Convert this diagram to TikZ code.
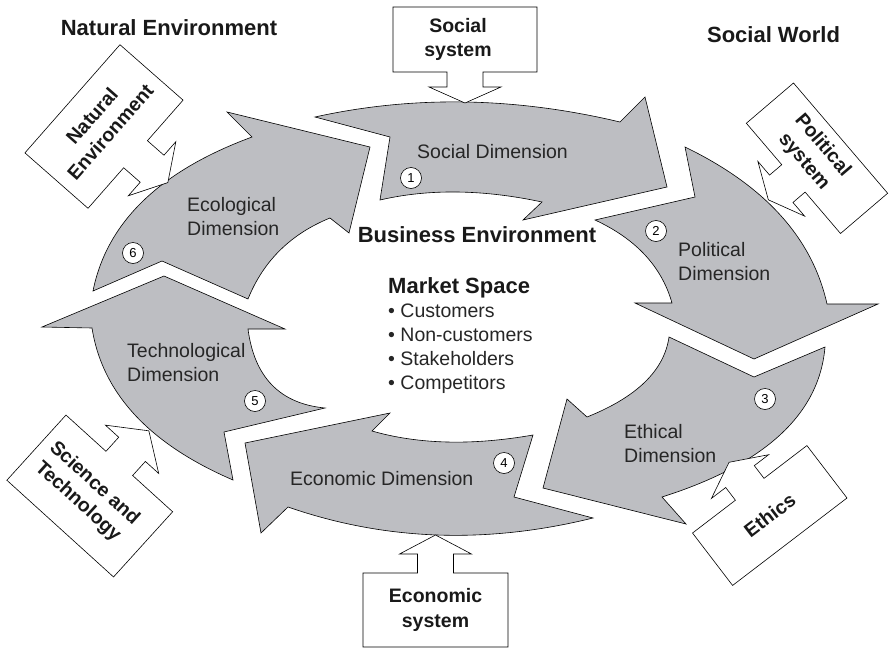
\documentclass[tikz,border=0pt]{standalone}
\usepackage{fontspec}
\setmainfont{Liberation Sans}
\definecolor{arrowgray}{RGB}{189,190,194}
\newcommand{\callout}[9]{%
  \begin{scope}[shift={#2}, rotate=#3]
    \draw[calloutbox] (-#4,-#5) -- (#4,-#5) -- (#4,#5) -- (18,#5) -- (18,#5+#6) -- (36,#5+#6) -- (0,#5+#6+#7) -- (-36,#5+#6) -- (-18,#5+#6) -- (-18,#5) -- (-#4,#5) -- cycle;
  \end{scope}
  \node[callouttext, #8] (#1) at #2 {#9};
}
\begin{document}
\begin{tikzpicture}[x=1pt,y=-1pt,
  dimarrow/.style={draw=black, line width=0.6pt, fill=arrowgray},
  calloutbox/.style={draw=black, line width=0.6pt, fill=white},
  callouttext/.style={font=\fontsize{19.5}{24.5}\selectfont\bfseries, align=center, inner sep=0pt, text=black!90},
  dimlabel/.style={font=\fontsize{19.5}{24}\selectfont, inner sep=0pt, text=black!85},
  header/.style={font=\fontsize{22}{26}\selectfont\bfseries, inner sep=0pt, text=black!90},
  numcircle/.style={circle, draw=black, line width=0.6pt, fill=white, minimum size=21pt, inner sep=0pt, font=\fontsize{13}{13}\selectfont}]
\useasboundingbox (0,0) rectangle (889,648);

% Ecological (6)
\draw[dimarrow] (93,291) .. controls (106.7,222.3) and (159.7,171) .. (252,137) -- (227,112) -- (370,147) -- (349,233) -- (330,218) .. controls (290.7,234) and (263.3,261) .. (248,299) -- (162,261) -- cycle;
% Social (1)
\draw[dimarrow] (315,117) .. controls (413.3,95.3) and (515,97) .. (620,122) -- (645,97) -- (667,187) -- (523,220) -- (542,202) .. controls (482.7,189.3) and (428.7,188.7) .. (380,200) -- (390,137) -- cycle;
% Political (2)
\draw[dimarrow] (685,147) .. controls (765,185.7) and (812.3,238) .. (827,304) -- (878,304) -- (754,359) -- (635,303) -- (672,303) .. controls (661.7,266.7) and (636,239) .. (595,220) -- (695,197) -- cycle;
% Ethical (3)
\draw[dimarrow] (825,347) .. controls (819.3,414.3) and (765,464.3) .. (662,497) -- (686,524) -- (543,488) -- (567,399) -- (587,417) .. controls (637,397) and (664.3,370.3) .. (669,337) -- (754,377) -- cycle;
% Economic (4)
\draw[dimarrow] (593,518) .. controls (486.7,544.3) and (385,540.7) .. (288,507) -- (261,533) -- (245,443) -- (390,413) -- (372,431) .. controls (418.3,444.3) and (472,445.7) .. (533,435) -- (514,497) -- cycle;
% Technological (5)
\draw[dimarrow] (233,480) .. controls (149.3,444) and (102.3,393.3) .. (92,328) -- (42,327) -- (164,276) -- (285,329) -- (248,329) .. controls (254.3,377.3) and (280,403.7) .. (325,408) -- (224,432) -- cycle;

% callouts
\callout{natenv}{(104,126.5)}{48.7}{72}{42}{22}{21}{rotate=48.7, yshift=4pt}{Natural\\Environment}
\callout{polsys}{(817,158.25)}{-49.5}{72.5}{31}{16}{17}{rotate=-49.5, xshift=-6pt}{Political\\system}
\callout{ethics}{(769.75,515.5)}{217.4}{72}{33}{16}{18}{rotate=37.4}{Ethics}
\callout{scitech}{(89.75,496)}{137.8}{72}{44}{19}{25}{rotate=-42.2, xshift=-5pt}{Science and\\Technology}
\callout{socsys}{(465,39.5)}{0}{72}{32.5}{15}{16}{xshift=-7pt}{Social\\system}
\callout{ecosys}{(435.5,610)}{180}{72.5}{37}{19}{19}{}{Economic\\system}

% dimension labels
\node[dimlabel, anchor=base] (soclab) at (492.5,158) {Social Dimension};
\node[dimlabel, anchor=north west, align=left] (ecolab) at (187,197) {Ecological\\Dimension};
\node[dimlabel, anchor=north west, align=left] (pollab) at (678,242) {Political\\Dimension};
\node[dimlabel, anchor=north west, align=left] (ethlab) at (624,424) {Ethical\\Dimension};
\node[dimlabel, anchor=base west] (econlab) at (290,485) {Economic Dimension};
\node[dimlabel, anchor=north west, align=left] (techlab) at (127,343) {Technological\\Dimension};

% centre
\node[header, anchor=base] (biz) at (477,242) {Business Environment};
\node[header, anchor=base west] (mkt) at (388,293) {Market Space};
\node[dimlabel, anchor=north west, align=left] (list) at (388,304) {• Customers\\• Non-customers\\• Stakeholders\\• Competitors};

% headers
\node[header, anchor=base] (natenvh) at (169,35) {Natural Environment};
\node[header, anchor=base] (socworld) at (773.5,42) {Social World};

% numbers
\node[numcircle] (n1) at (411,178) {1};
\node[numcircle] (n2) at (656,231) {2};
\node[numcircle] (n3) at (765,399) {3};
\node[numcircle] (n4) at (504,463) {4};
\node[numcircle] (n5) at (255,401) {5};
\node[numcircle] (n6) at (133,253) {6};
\end{tikzpicture}
\end{document}
